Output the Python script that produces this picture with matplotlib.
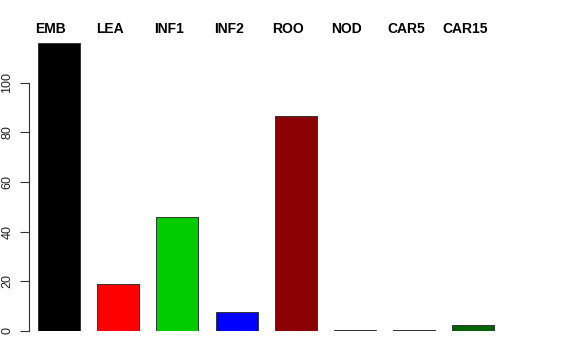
import numpy as np
import matplotlib
matplotlib.use("Agg")
import matplotlib.pyplot as plt

plt.rcParams['font.family'] = ['Liberation Sans', 'DejaVu Sans']

# data
groups = ["EMB", "LEA", "INF1", "INF2", "ROO", "NOD", "CAR5", "CAR15"]
counts = [116.1, 19.0, 45.9, 7.6, 86.6, 0.4, 0.5, 2.4]
bar_colors = ["#000000", "#FF0000", "#00CD00", "#0000FF", "#8B0000",
              "#8B3A8B", "#1C1C5C", "#006400"]
y_ticks = [0, 20, 40, 60, 80, 100]

W, H = 576, 360
fig = plt.figure(figsize=(W / 100, H / 100), dpi=100)

# layout in pixels, converted to figure fractions
px_left, px_right = 29, 540
px_bottom, px_top = 331, 31
px_per_unit = 2.483
pitch = 59.2
first_center = 59

ax = fig.add_axes([px_left / W, (H - px_bottom) / H,
                   (px_right - px_left) / W, (px_bottom - px_top) / H])

x = np.arange(len(groups))
ax.bar(x, counts, width=42 / pitch, color=bar_colors,
       edgecolor="#333333", linewidth=0.7)

ax.set_xlim((px_left - first_center) / pitch, (px_right - first_center) / pitch)
ax.set_ylim(0, (px_bottom - px_top) / px_per_unit)

# group names above the bars (sit a little left of the bar centres)
label_y = 1 + (px_top - 29) / (px_bottom - px_top)
for xi, name in zip(x, groups):
    ax.text(xi - 8 / pitch, label_y, name,
            transform=ax.get_xaxis_transform(), ha="center", va="center",
            fontsize=10, fontweight="bold")

for s in ["top", "right", "bottom"]:
    ax.spines[s].set_visible(False)
ax.spines["left"].set_bounds(0, 100)
ax.spines["left"].set_linewidth(0.8)
ax.spines["left"].set_color("#333333")
ax.set_xticks([])
ax.set_yticks(y_ticks)
ax.set_yticklabels([str(t) for t in y_ticks], rotation=90, va="center",
                   fontsize=9, color="#222222")
ax.tick_params(axis="y", length=6.2, width=0.8, color="#333333", pad=5)

fig.savefig("out.png", dpi=100)
